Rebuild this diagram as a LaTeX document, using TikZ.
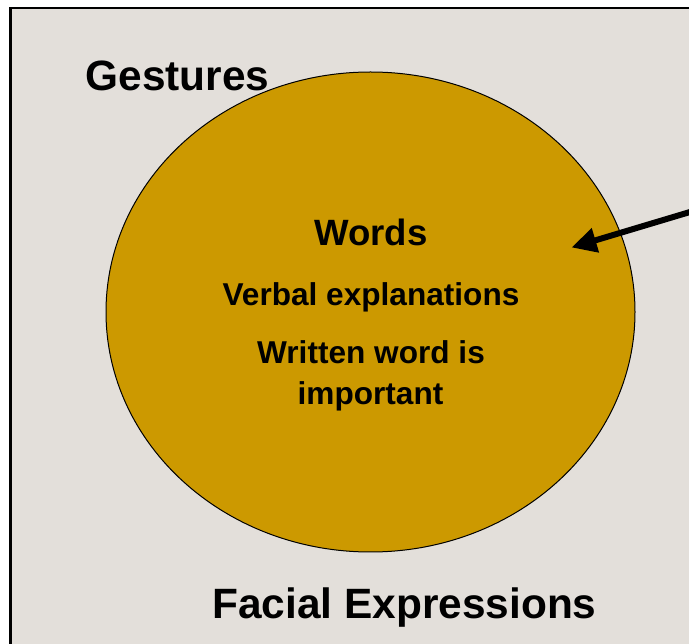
\documentclass[tikz,border=0pt]{standalone}
\usepackage{fontspec}
\setmainfont{Liberation Sans}
\usetikzlibrary{arrows.meta,shapes.geometric}
\definecolor{bgc}{HTML}{E3DFDA}
\definecolor{gold}{HTML}{CC9900}
\tikzset{
  lbl/.style={text=black, inner sep=0pt, anchor=base},
  big/.style={lbl, font=\fontsize{42.4}{48}\selectfont\bfseries},
  mid/.style={lbl, font=\fontsize{36.6}{42}\selectfont\bfseries},
  sml/.style={lbl, font=\fontsize{31.6}{36}\selectfont\bfseries},
}
\begin{document}
\begin{tikzpicture}[x=1pt,y=-1pt]
\useasboundingbox (0,0) rectangle (689,644);
\draw[line width=2.2pt, fill=bgc] (10.5,8) rectangle (720,680);
\node[draw=black, line width=1pt, fill=gold, ellipse, minimum width=529pt, minimum height=480pt, inner sep=0pt] (circ) at (370.5,312) {};
\node[big] (ges) at (177.5,91) {Gestures};
\node[big] (fac) at (404.5,619) {Facial Expressions};
\node[mid] (wor) at (371,246) {Words};
\node[sml] (verb) at (371,306) {Verbal explanations};
\node[sml] (writ) at (371,364) {Written word is};
\node[sml] (imp) at (370.5,405) {important};
\coordinate (tip) at (571.5,247.5);
\coordinate (tail) at (700,209);
\draw[line width=6pt, -{Triangle[length=25pt,width=24pt]}] (tail) -- (tip);
\end{tikzpicture}
\end{document}
